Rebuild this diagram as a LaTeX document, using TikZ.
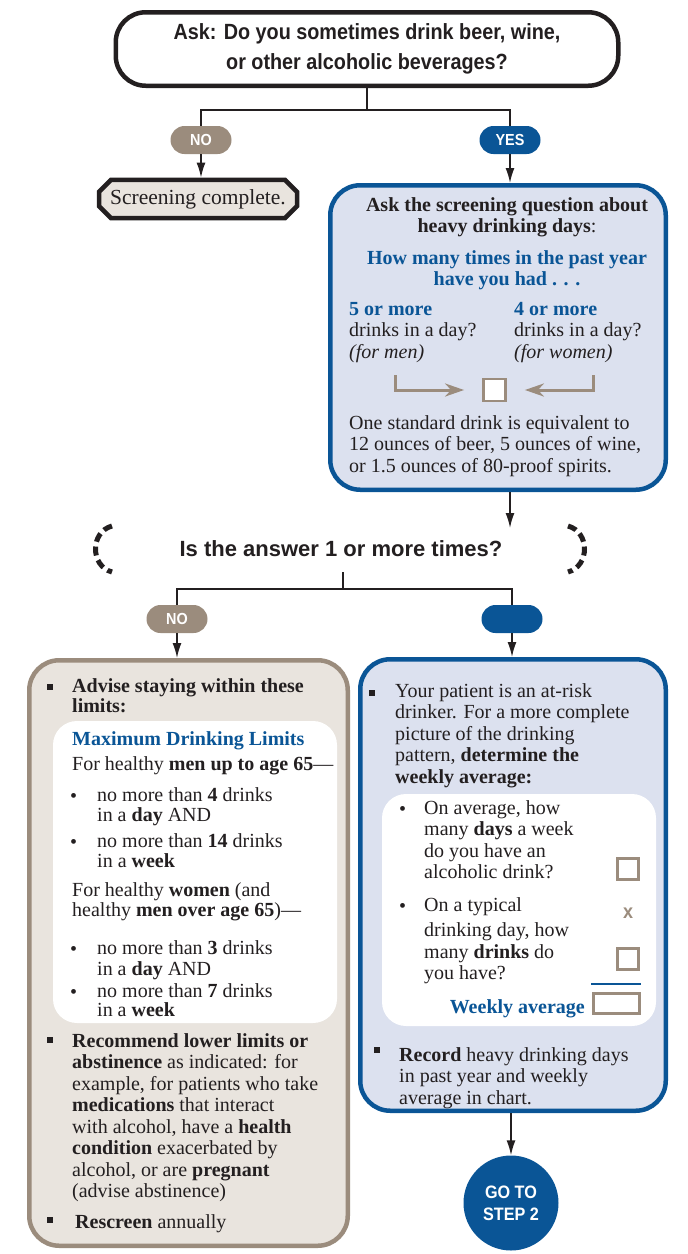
\documentclass[tikz,border=0pt]{standalone}
\usepackage{fontspec}
\setmainfont{Liberation Serif}
\newfontfamily\condsans[FakeStretch=0.9]{Liberation Sans}
\newfontfamily\plainsans{Liberation Sans}
\usetikzlibrary{positioning,arrows.meta,shapes.misc}

\definecolor{nblue}{RGB}{10,85,150}
\definecolor{ntaupe}{RGB}{155,140,125}
\definecolor{nbluefill}{RGB}{220,225,239}
\definecolor{ntaupefill}{RGB}{233,228,222}
\definecolor{ntext}{RGB}{35,31,32}

\newcommand{\bodyfont}{\fontsize{20}{21.5}\selectfont}
\newcommand{\headfont}{\condsans\bfseries\fontsize{22}{30}\selectfont}
\newcommand{\pillfont}{\condsans\bfseries\fontsize{16}{16}\selectfont}
\newcommand{\bluebf}[1]{\textcolor{nblue}{\textbf{#1}}}

\begin{document}
\begin{tikzpicture}[x=1pt, y=-1pt,
    % coordinates of a txt node are the baseline of its first line
    txt/.style={inner sep=0pt, anchor=north west, yshift=15.05pt, align=left, font=\bodyfont,
                text=ntext, execute at begin node=\strut},
    link/.style={line width=1.6pt, draw=ntext},
    arr/.style={link, -{Latex[length=15pt,width=9pt]}},
    tarr/.style={line width=3pt, draw=ntaupe, -{Stealth[length=19pt,width=13pt,inset=6pt]}},
    pill/.style={rounded rectangle, minimum width=61pt, minimum height=28pt, inner sep=0pt, text=white, font=\pillfont},
    bluebox/.style={draw=nblue, fill=nbluefill, line width=4.5pt, rounded corners=30pt},
    taupebox/.style={draw=ntaupe, fill=ntaupefill, line width=4.5pt, rounded corners=30pt},
    inbox/.style={fill=white, rounded corners=24pt},
    tick/.style={draw=ntaupe, fill=white, line width=2.8pt, minimum size=21pt, inner sep=0pt},
    sqdot/.style={fill=ntext, minimum size=6pt, inner sep=0pt},
    bracket/.style={line width=5pt, draw=ntext, dash pattern=on 9pt off 5pt},
  ]
  \useasboundingbox (0,0) rectangle (688,1254);

  % --- first question ---
  \node[draw=ntext, line width=4.5pt, rounded corners=30pt, fill=white, minimum width=502.5pt,
        minimum height=73.5pt, align=center, font=\headfont, text=ntext] (ask) at (367,49)
        {Ask: Do you sometimes drink beer, wine,\\or other alcoholic beverages?};
  \node[pill, fill=ntaupe] (no1) at (201,140) {NO};
  \node[pill, fill=nblue] (yes1) at (510,140) {YES};
  \coordinate (split1) at (367,110);
  \draw[link] (ask.south) -- (split1) -| (no1.north);
  \draw[link] (split1) -| (yes1.north);

  % --- NO: done ---
  \node[chamfered rectangle, chamfered rectangle xsep=6pt, chamfered rectangle ysep=6pt,
        draw=ntext, fill=ntaupefill, line width=4.5pt, minimum width=198pt, minimum height=30pt,
        font=\fontsize{21.5}{22}\selectfont, text=ntext] (done) at (198,199) {Screening complete.};
  \draw[arr] (no1.south) -- (no1.south |- done.north);

  % --- YES: screening question ---
  \node[bluebox, minimum width=335.5pt, minimum height=304.5pt] (screen) at (498,337.5) {};
  \draw[arr] (yes1.south) -- (yes1.south |- screen.north);
  \node[txt, anchor=north, align=center] (askhd) at (507,212)
        {\textbf{Ask the screening question about}\\\textbf{heavy drinking days}:};
  \node[txt, anchor=north, align=center] (howmany) at (507,265)
        {\bluebf{How many times in the past year}\\\bluebf{have you had . . .}};
  \node[txt] (men) at (349,317) {\bluebf{5 or more}\\drinks in a day?\\\textit{(for men)}};
  \node[txt] (women) at (514,317) {\bluebf{4 or more}\\drinks in a day?\\\textit{(for women)}};
  \node[tick, minimum size=22pt] (ansbox) at (494.5,390) {};
  \coordinate (menL) at (395,375);
  \coordinate (womenL) at (593,375);
  \draw[tarr, shorten >=18pt] (menL) |- (ansbox);
  \draw[tarr, shorten >=18pt] (womenL) |- (ansbox);
  \node[txt] (stddrink) at (349,430) {One standard drink is equivalent to\\12 ounces of beer, 5 ounces of wine,\\or 1.5 ounces of 80-proof spirits.};

  % --- second question ---
  \coordinate (qin) at (510,528);
  \draw[arr] (yes1 |- screen.south) -- (qin);
  \draw[bracket] (112,526) .. controls (90,532) and (90,566) .. (112,572);
  \draw[bracket] (568,526) .. controls (590,532) and (590,566) .. (568,572);
  \node[font=\plainsans\bfseries\fontsize{22}{30}\selectfont, text=ntext, inner sep=0pt, anchor=base]
        (quest) at (341,556) {Is the answer 1 or more times?};
  \node[pill, fill=ntaupe] (no2) at (177,619) {NO};
  \node[pill, fill=nblue] (yes2) at (512,619) {};
  \coordinate (split2) at (343,589);
  \draw[link, shorten <=16pt] (split2 |- quest.south) -- (split2);
  \draw[link] (split2) -| (no2.north);
  \draw[link] (split2) -| (yes2.north);

  % --- NO: limits ---
  \node[taupebox, minimum width=318.5pt, minimum height=585.5pt] (limits) at (188.5,953) {};
  \draw[arr] (no2.south) -- (no2.south |- limits.north);
  \node[sqdot] at (49.5,686.5) {};
  \node[txt] (advise) at (72,693) {\textbf{Advise staying within these}\\[-1.5pt]\textbf{limits:}};
  \node[inbox, minimum width=284pt, minimum height=302pt] (maxlim) at (195,872) {};
  \node[txt] (maxhd) at (72,745) {\bluebf{Maximum Drinking Limits}};
  \node[txt] (menhd) at (72,770) {For healthy \textbf{men up to age 65}---};
  \node[txt] at (70,802) {\textbullet};
  \node[txt] at (97,802) {no more than \textbf{4} drinks\\[-1.5pt]in a \textbf{day} AND};
  \node[txt] at (70,848) {\textbullet};
  \node[txt] at (97,848) {no more than \textbf{14} drinks\\[-1.5pt]in a \textbf{week}};
  \node[txt] (womenhd) at (72,897) {For healthy \textbf{women} (and\\[-1.5pt]healthy \textbf{men over age 65})---};
  \node[txt] at (70,955) {\textbullet};
  \node[txt] at (97,955) {no more than \textbf{3} drinks\\in a \textbf{day} AND};
  \node[txt] at (70,998) {\textbullet};
  \node[txt] at (97,998) {no more than \textbf{7} drinks\\[-2pt]in a \textbf{week}};
  \node[sqdot] at (49.5,1040) {};
  \node[txt] (lower) at (72,1048) {\textbf{Recommend lower limits or}\\\textbf{abstinence} as indicated: for\\example, for patients who take\\\textbf{medications} that interact\\with alcohol, have a \textbf{health}\\\textbf{condition} exacerbated by\\alcohol, or are \textbf{pregnant}\\(advise abstinence)};
  \node[sqdot] at (49.5,1220) {};
  \node[txt] (rescreen) at (75,1228) {\textbf{Rescreen} annually};

  % --- YES: weekly average ---
  \node[bluebox, minimum width=305.5pt, minimum height=451.5pt] (weekly) at (513,885) {};
  \draw[arr] (yes2.south) -- (yes2.south |- weekly.north);
  \node[sqdot] at (371.5,692.5) {};
  \node[txt] (atrisk) at (395,698) {Your patient is an at-risk\\drinker. For a more complete\\picture of the drinking\\pattern, \textbf{determine the}\\\textbf{weekly average:}};
  \node[inbox, minimum width=274pt, minimum height=232pt] (qbox) at (519,910) {};
  \node[txt] at (399,815) {\textbullet};
  \node[txt] (qdays) at (424,815) {On average, how\\many \textbf{days} a week\\do you have an\\alcoholic drink?};
  \node[tick] (daysbox) at (628,869) {};
  \node[txt] at (399,912) {\textbullet};
  \node[txt] (qdrinks) at (424,912) {On a typical\\[4pt]drinking day, how\\many \textbf{drinks} do\\you have?};
  \node[font=\condsans\bfseries\fontsize{20}{20}\selectfont, text=ntaupe, inner sep=0pt] (times) at (628,913) {x};
  \node[tick] (drinksbox) at (628,959) {};
  \draw[nblue, line width=1.2pt] (591,984) -- (641,984);
  \node[tick, minimum width=46pt, minimum height=20pt] (avgbox) at (616.5,1003.5) {};
  \node[txt, anchor=north east] (avglbl) at (585,1013) {\bluebf{Weekly average}};
  \node[sqdot] at (376.5,1050) {};
  \node[txt] (record) at (399,1062) {\textbf{Record} heavy drinking days\\in past year and weekly\\average in chart.};

  % --- go on ---
  \node[circle, fill=nblue, minimum size=95pt, inner sep=0pt, text=white, align=center,
        font=\condsans\bfseries\fontsize{18}{22}\selectfont] (step2) at (511,1203) {GO TO\\STEP 2};
  \draw[arr] (step2 |- weekly.south) -- (step2.north);
\end{tikzpicture}
\end{document}
